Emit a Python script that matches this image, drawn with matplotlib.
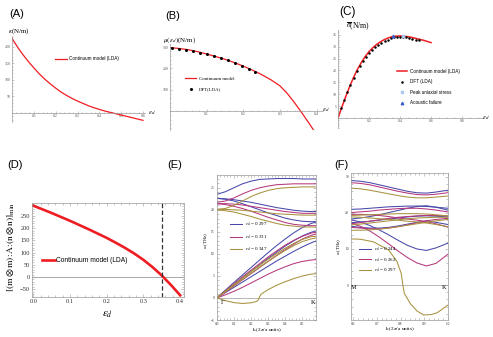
import numpy as np
import matplotlib
matplotlib.use("Agg")
from matplotlib import pyplot as plt
from matplotlib.ticker import MultipleLocator

plt.rcParams["mathtext.fontset"] = "stix"
SERIF = "Liberation Serif"
SANS = "Liberation Sans"
RED = "#ee1d23"
BLUE = "#4848aa"
PURPLE = "#b5387c"
OLIVE = "#a8923f"
GRAY = "#9a9a9a"

# (A) kappa vs strain
a_eps = [0, 0.025, 0.05, 0.075, 0.1, 0.125, 0.15, 0.175, 0.2, 0.225, 0.25, 0.275, 0.3,
         0.325, 0.35, 0.375, 0.4, 0.425, 0.45, 0.475, 0.5, 0.525, 0.55, 0.575, 0.6]
a_kappa = [225, 199, 176, 155, 136, 118, 102, 88, 75, 63, 53, 44, 36,
           29, 22, 16, 11, 6, 2, -2, -6, -10, -14, -18, -22]

# (B) mu vs strain, continuum + DFT
b_eps = [0, 0.025, 0.05, 0.075, 0.1, 0.125, 0.15, 0.175, 0.2, 0.225, 0.25, 0.275, 0.3,
         0.32, 0.34, 0.36, 0.38, 0.4]
b_mu = [298, 294, 288, 279, 268, 256, 243, 228, 211, 192, 171, 147, 118,
        82, 38, -10, -60, -112]
b_dft_eps = [0.005, 0.024, 0.043, 0.062, 0.081, 0.100, 0.119, 0.138, 0.157, 0.176, 0.195, 0.214, 0.233]
b_dft_mu = [297, 291, 286, 282, 275, 268, 260, 250, 238, 227, 211, 197, 182]

# (C) stress vs strain
c_eps = [0, 0.025, 0.05, 0.075, 0.1, 0.125, 0.15, 0.175, 0.2, 0.225, 0.25, 0.275, 0.3,
         0.325, 0.35, 0.375, 0.4, 0.425, 0.45, 0.475, 0.5, 0.525, 0.55, 0.575, 0.6]
c_sig = [0, 4.6, 9, 13.2, 17, 20.4, 23.3, 25.8, 27.9, 29.6, 31, 32.1, 33,
         33.7, 34.2, 34.4, 34.5, 34.4, 34.2, 33.9, 33.5, 33.1, 32.7, 32.2, 31.7]
c_dft_eps = [0.02, 0.04, 0.06, 0.08, 0.1, 0.12, 0.14, 0.16, 0.18, 0.2, 0.22, 0.24, 0.26,
             0.28, 0.3, 0.32, 0.34, 0.36, 0.38, 0.4, 0.42, 0.44, 0.46, 0.48, 0.5, 0.52]
c_dft_sig = [4, 7.5, 11, 14, 17, 19.7, 22, 24, 25.8, 27.3, 28.6, 29.8, 30.7,
             31.6, 32.3, 33.0, 33.5, 33.9, 34.1, 34.2, 34.2, 34.0, 33.7, 33.4, 33.0, 32.6]
c_peak = (0.42, 34.4)
c_acoustic = (0.355, 34.3)

# (D) minimum acoustic tensor
d_eps = [0, 0.025, 0.05, 0.075, 0.1, 0.125, 0.15, 0.175, 0.2, 0.225, 0.25, 0.275, 0.3,
         0.325, 0.35, 0.375, 0.4]
d_val = [292, 277, 262, 246, 230, 213, 196, 178, 160, 140, 119, 96, 70, 40, 6, -33, -75]
d_fail = 0.35

# (E) phonons along Gamma-K
e_k = [0, 0.05, 0.1, 0.15, 0.2, 0.25, 0.3, 0.35, 0.4, 0.45, 0.5, 0.55, 0.577]
e_blue = [
    [23.5, 24.1, 25.0, 25.9, 26.5, 26.9, 27.0, 27.1, 27.1, 27.1, 27.0, 27.0, 27.0],
    [22.6, 22.5, 22.3, 22.0, 21.7, 21.3, 20.9, 20.5, 20.2, 19.9, 19.7, 19.6, 19.6],
    [22.6, 22.4, 22.0, 21.4, 20.7, 20.0, 19.3, 18.7, 18.1, 17.7, 17.4, 17.3, 17.3],
    [0, 1.75, 3.5, 5.2, 6.9, 8.6, 10.3, 11.9, 13.4, 14.8, 16.0, 16.9, 17.2],
    [0, 1.5, 3.0, 4.5, 6.0, 7.5, 9.0, 10.4, 11.8, 13.0, 14.1, 14.9, 15.2],
    [0, 1.2, 2.4, 3.6, 4.8, 6.0, 7.2, 8.4, 9.5, 10.6, 11.6, 12.5, 12.9],
]
e_purple = [
    [21.7, 22.0, 22.7, 23.6, 24.4, 25.0, 25.4, 25.7, 25.8, 25.9, 25.9, 25.9, 25.9],
    [21.4, 21.4, 21.3, 21.1, 20.8, 20.5, 20.2, 19.9, 19.6, 19.4, 19.2, 19.2, 19.2],
    [21.4, 21.2, 20.8, 20.3, 19.7, 19.0, 18.3, 17.7, 17.1, 16.7, 16.5, 16.4, 16.4],
    [0, 1.6, 3.2, 4.8, 6.3, 7.8, 9.3, 10.7, 12.0, 13.1, 14.0, 14.7, 14.9],
    [0, 1.3, 2.7, 4.1, 5.5, 6.9, 8.3, 9.7, 11.0, 12.2, 13.4, 14.2, 14.5],
    [0, 0.7, 1.5, 2.4, 3.4, 4.4, 5.4, 6.3, 7.1, 7.8, 8.3, 8.6, 8.7],
]
e_olive = [
    [20.1, 20.3, 21.0, 22.0, 23.0, 23.8, 24.4, 24.8, 25.0, 25.1, 25.2, 25.2, 25.2],
    [20.1, 20.1, 20.0, 19.9, 19.7, 19.5, 19.3, 19.1, 19.0, 18.9, 18.8, 18.8, 18.8],
    [20.0, 19.8, 19.5, 19.0, 18.5, 17.9, 17.4, 16.9, 16.5, 16.3, 16.1, 16.1, 16.1],
    [0, 1.5, 3.0, 4.5, 6.0, 7.4, 8.8, 10.1, 11.3, 12.4, 13.3, 13.9, 14.0],
    [0, 1.4, 2.8, 4.2, 5.6, 7.0, 8.3, 9.6, 10.8, 11.9, 12.8, 13.4, 13.6],
]
e_olive_za_k = [0, 0.05, 0.1, 0.15, 0.2, 0.235, 0.245, 0.25, 0.26, 0.3, 0.35, 0.4, 0.45, 0.5, 0.55, 0.577]
e_olive_za = [0, -0.6, -1.05, -1.25, -1.1, -0.75, -0.3, 0.3, 0.9, 1.9, 2.9, 3.7, 4.4, 5.0, 5.4, 5.5]
e_labels = ["0.297", "0.331", "0.347"]

# (F) phonons along M-K
f_k = [0.59, 0.63, 0.67, 0.71, 0.75, 0.79, 0.83, 0.87, 0.91, 0.95, 1.0]
f_blue = [
    [29.0, 28.8, 28.4, 27.8, 27.2, 26.6, 26.0, 25.6, 25.5, 25.8, 26.3],
    [21.0, 21.1, 21.3, 21.5, 21.7, 21.8, 21.9, 21.9, 21.8, 21.6, 21.3],
    [18.3, 18.6, 19.0, 19.5, 20.1, 20.7, 21.3, 21.8, 22.0, 21.6, 20.8],
    [17.3, 17.5, 17.7, 18.0, 18.3, 18.6, 18.9, 19.1, 19.2, 19.1, 18.9],
    [16.3, 16.0, 15.8, 15.8, 16.0, 16.4, 16.9, 17.4, 17.8, 17.4, 16.8],
    [18.1, 17.5, 16.5, 15.3, 13.9, 12.4, 11.0, 10.0, 9.6, 10.3, 11.6],
]
f_purple = [
    [28.4, 28.2, 27.8, 27.2, 26.6, 26.0, 25.5, 25.1, 25.0, 25.2, 25.6],
    [20.1, 20.3, 20.5, 20.8, 21.0, 21.2, 21.3, 21.3, 21.1, 20.8, 20.3],
    [19.6, 19.6, 19.5, 19.3, 19.0, 18.6, 18.3, 18.0, 17.6, 17.0, 16.1],
    [17.0, 17.3, 17.7, 18.1, 18.5, 18.8, 19.0, 19.2, 19.3, 19.3, 19.2],
    [16.0, 15.8, 15.6, 15.6, 15.8, 16.2, 16.7, 17.3, 17.8, 18.2, 18.5],
    [17.1, 16.3, 15.0, 13.3, 11.4, 9.4, 7.6, 6.1, 5.3, 6.0, 8.5],
]
f_olive = [
    [26.9, 26.7, 26.3, 25.8, 25.3, 24.8, 24.4, 24.2, 24.2, 24.4, 24.7],
    [19.3, 19.4, 19.5, 19.6, 19.7, 19.8, 19.8, 19.8, 19.7, 19.5, 19.2],
    [18.9, 18.8, 18.6, 18.4, 18.2, 18.0, 17.7, 17.5, 17.2, 16.8, 16.2],
    [16.7, 16.9, 17.2, 17.5, 17.8, 18.1, 18.4, 18.6, 18.7, 18.8, 18.8],
    [15.2, 15.2, 15.3, 15.5, 15.8, 16.2, 16.6, 17.0, 17.4, 17.8, 18.2],
]
f_olive_low_k = [0.59, 0.63, 0.685, 0.75, 0.785, 0.803, 0.81, 0.816, 0.841, 0.87, 0.898, 0.93, 0.955, 1.0]
f_olive_low = [12.8, 12.7, 12.0, 9.7, 6.5, 3.2, 0.0, -2.3, -5.1, -7.2, -8.3, -8.2, -7.7, -5.6]
f_labels = ["0.244", "0.262", "0.297"]

W, H = 493, 337
fig = plt.figure(figsize=(W / 100, H / 100), dpi=100)


def px_axes(l, t, r, b):
    return fig.add_axes([l / W, (H - b) / H, (r - l) / W, (b - t) / H])


def ptext(x, y, s, **kw):
    fig.text(x / W, 1 - y / H, s, ha=kw.pop("ha", "center"), va=kw.pop("va", "center"), **kw)


def axes_style(ax):
    ax.patch.set_visible(False)
    for s in ("top", "right"):
        ax.spines[s].set_visible(False)
    for s in ("left", "bottom"):
        ax.spines[s].set_position(("data", 0))
        ax.spines[s].set_color(GRAY)
        ax.spines[s].set_linewidth(0.5)
    ax.tick_params(which="both", direction="in", color=GRAY, width=0.4,
                   labelsize=2.8, labelcolor="#555555", pad=1)
    ax.tick_params(which="major", length=1.6)
    ax.tick_params(which="minor", length=0.8)
    for lab in ax.get_xticklabels() + ax.get_yticklabels():
        lab.set_family(SERIF)


def frame_style(ax, size):
    for s in ax.spines.values():
        s.set_color(GRAY)
        s.set_linewidth(0.5)
    ax.tick_params(which="both", direction="in", top=True, right=True, color=GRAY,
                   width=0.4, labelsize=size, labelcolor="#333333", pad=1.5)
    ax.tick_params(which="major", length=2.2)
    ax.tick_params(which="minor", length=1.1)
    for lab in ax.get_xticklabels() + ax.get_yticklabels():
        lab.set_family(SERIF)


# ---------- (A)
ax = px_axes(12, 36, 145, 122)
ax.plot(a_eps, a_kappa, color=RED, lw=0.9, label="Continuum model (LDA)")
ax.set_xlim(0, 0.609)
ax.set_ylim(-27, 232)
ax.set_xticks([0.1, 0.2, 0.3, 0.4, 0.5, 0.6])
ax.set_yticks([50, 100, 150, 200])
ax.xaxis.set_minor_locator(MultipleLocator(0.02))
ax.yaxis.set_minor_locator(MultipleLocator(10))
axes_style(ax)
ax.legend(loc="center left", bbox_to_anchor=(0.308, 0.733), frameon=False, borderpad=0,
          handlelength=2.6, handletextpad=0.4, prop={"family": SANS, "size": 3.3})
ptext(17, 14, "(A)", fontsize=8, family=SANS)
ptext(19, 31, r"$\kappa$(N/m)", fontsize=5, family=SERIF)
ptext(152, 113, r"$\epsilon_d$", fontsize=5)

# ---------- (B)
ax = px_axes(170, 44, 323, 130)
ax.plot(b_eps, b_mu, color=RED, lw=0.9, label="Continuum model")
ax.plot(b_dft_eps, b_dft_mu, "o", color="black", ms=1.2, label="DFT(LDA)")
ax.set_xlim(0, 0.417)
ax.set_ylim(-89, 315)
ax.set_xticks([0.1, 0.2, 0.3, 0.4])
ax.set_yticks([100, 200, 300])
ax.xaxis.set_minor_locator(MultipleLocator(0.02))
ax.yaxis.set_minor_locator(MultipleLocator(20))
axes_style(ax)
ax.legend(loc="center left", bbox_to_anchor=(0.085, 0.535), frameon=False, borderpad=0,
          handlelength=2.2, handletextpad=0.6, labelspacing=1.3,
          prop={"family": SERIF, "size": 3.5})
ptext(173, 16, "(B)", fontsize=8, family=SANS)
ptext(180, 40, r"$\mu(\epsilon_d)$(N/m)", fontsize=5, family=SERIF)
ptext(326, 110, r"$\epsilon_d$", fontsize=5)

# ---------- (C)
ax = px_axes(338, 30, 483, 128)
ax.plot(c_eps, c_sig, color=RED, lw=1.1, label="Continuum model (LDA)")
ax.plot(c_dft_eps, c_dft_sig, "o", color="black", ms=0.8, label="DFT (LDA)")
ax.plot(*c_peak, "s", color="#a8c8f0", ms=1.8, label="Peak uniaxial stress")
ax.plot(*c_acoustic, "^", color="#3a5fd0", ms=1.8, label="Acoustic failure")
ax.set_xlim(0, 0.935)
ax.set_ylim(-4.2, 37)
ax.set_xticks([0.2, 0.4, 0.6, 0.8])
ax.set_yticks([5, 10, 15, 20, 25, 30, 35])
ax.xaxis.set_minor_locator(MultipleLocator(0.05))
ax.yaxis.set_minor_locator(MultipleLocator(1))
axes_style(ax)
ax.legend(loc="center left", bbox_to_anchor=(0.393, 0.418), frameon=False, borderpad=0,
          handlelength=2.2, handletextpad=0.5, labelspacing=1.2,
          prop={"family": SANS, "size": 3.3})
ptext(347, 12, "(C)", fontsize=8.5, family=SANS)
ptext(358, 26, r"$\overline{\sigma}$(N/m)", fontsize=5.5, family=SERIF)
ptext(486, 118, r"$\epsilon_d$", fontsize=5)

# ---------- (D)
ax = px_axes(32, 203, 184, 297)
ax.axhline(0, color=GRAY, lw=0.6)
ax.plot(d_eps, d_val, color=RED, lw=1.9, label="Continuum model (LDA)")
ax.axvline(d_fail, color="#333333", lw=0.9, ls=(0, (3.5, 2)))
ax.set_xlim(-0.0035, 0.4104)
ax.set_ylim(-82, 303)
ax.set_xticks([0, 0.1, 0.2, 0.3, 0.4])
ax.set_xticklabels(["0.0", "0.1", "0.2", "0.3", "0.4"])
ax.set_yticks([-50, 0, 50, 100, 150, 200, 250])
ax.set_yticklabels(["\u221250", "0", "50", "100", "150", "200", "250"])
ax.xaxis.set_minor_locator(MultipleLocator(0.02))
ax.yaxis.set_minor_locator(MultipleLocator(10))
frame_style(ax, 4.6)
ax.legend(loc="center left", bbox_to_anchor=(0.046, 0.383), frameon=False, borderpad=0,
          handlelength=1.9, handletextpad=0.15, prop={"family": SANS, "size": 4.8})
ax.set_xlabel(r"$\epsilon_d$", fontsize=8, labelpad=4)
ax.text(-0.135, 0.53, r"$[(\mathrm{m}\otimes\mathrm{m})\!:\!\mathrm{A}\!:\!(\mathrm{n}\otimes\mathrm{n})]_{\mathrm{min}}$",
        transform=ax.transAxes, rotation=90, ha="center", va="center", fontsize=6.8)
ptext(15, 165, "(D)", fontsize=8, family=SANS)
ptext(175, 165, "(E)", fontsize=8, family=SANS)
ptext(341, 165, "(F)", fontsize=8, family=SANS)

# ---------- (E)
ax = px_axes(216.7, 175, 315.7, 320)
ax.axhline(0, color=GRAY, lw=0.5)
for bands, col, lab in [(e_blue, BLUE, e_labels[0]), (e_purple, PURPLE, e_labels[1]),
                        (e_olive, OLIVE, e_labels[2])]:
    for i, band in enumerate(bands):
        ax.plot(e_k, band, color=col, lw=0.75,
                label=r"$\epsilon_d$ = " + lab if i == 0 else None)
ax.plot(e_olive_za_k, e_olive_za, color=OLIVE, lw=0.75)
ax.set_xlim(0, 0.577)
ax.set_ylim(-5, 27.9)
ax.set_xticks([0, 0.1, 0.2, 0.3, 0.4, 0.5])
ax.set_xticklabels(["0.0", "0.1", "0.2", "0.3", "0.4", "0.5"])
ax.set_yticks([-5, 0, 5, 10, 15, 20, 25])
ax.xaxis.set_minor_locator(MultipleLocator(0.02))
ax.yaxis.set_minor_locator(MultipleLocator(1))
frame_style(ax, 2.6)
ax.legend(loc="center left", bbox_to_anchor=(0.114, 0.572), frameon=False, borderpad=0,
          handlelength=2.4, handletextpad=0.5, labelspacing=1.0,
          prop={"family": SERIF, "size": 3.6})
ax.text(0.025, -0.5, "\u0393", fontsize=4.5, family=SERIF, ha="left", va="top")
ax.text(0.972, -0.5, "K", fontsize=4.5, family=SERIF, ha="center", va="top",
        transform=ax.get_yaxis_transform())
ax.text(0.508, -0.07, r"k (2$\pi$/a units)", transform=ax.transAxes, ha="center", va="center",
        fontsize=3.8, family=SERIF)
ax.text(-0.112, 0.55, r"$\omega$(THz)", transform=ax.transAxes, rotation=90, ha="center",
        va="center", fontsize=3.6, family=SERIF)

# ---------- (F)
ax = px_axes(351, 173.3, 447.7, 320)
ax.axhline(0, color=GRAY, lw=0.5)
for bands, col, lab in [(f_blue, BLUE, f_labels[0]), (f_purple, PURPLE, f_labels[1]),
                        (f_olive, OLIVE, f_labels[2])]:
    for i, band in enumerate(bands):
        ax.plot(f_k, band, color=col, lw=0.75,
                label=r"$\epsilon_d$ = " + lab if i == 0 else None)
ax.plot(f_olive_low_k, f_olive_low, color=OLIVE, lw=0.75)
ax.set_xlim(0.59, 1.0)
ax.set_ylim(-9.7, 31)
ax.set_xticks([0.6, 0.7, 0.8, 0.9, 1.0])
ax.set_yticks([0, 10, 20, 30])
ax.xaxis.set_minor_locator(MultipleLocator(0.02))
ax.yaxis.set_minor_locator(MultipleLocator(2))
frame_style(ax, 2.6)
ax.legend(loc="center left", bbox_to_anchor=(0.062, 0.411), frameon=False, borderpad=0,
          handlelength=2.4, handletextpad=0.5, labelspacing=0.6,
          prop={"family": SERIF, "size": 3.6})
ax.text(0.03, 0.06, "M", transform=ax.get_yaxis_transform(), fontsize=4.5, family=SERIF,
        ha="center", va="top")
ax.text(0.965, 0.06, "K", transform=ax.get_yaxis_transform(), fontsize=4.5, family=SERIF,
        ha="center", va="top")
ax.text(0.507, -0.063, r"k (2$\pi$/a units)", transform=ax.transAxes, ha="center", va="center",
        fontsize=3.8, family=SERIF)
ax.text(-0.12, 0.5, r"$\omega$(THz)", transform=ax.transAxes, rotation=90, ha="center",
        va="center", fontsize=3.6, family=SERIF)

fig.savefig("out.png", dpi=100)
